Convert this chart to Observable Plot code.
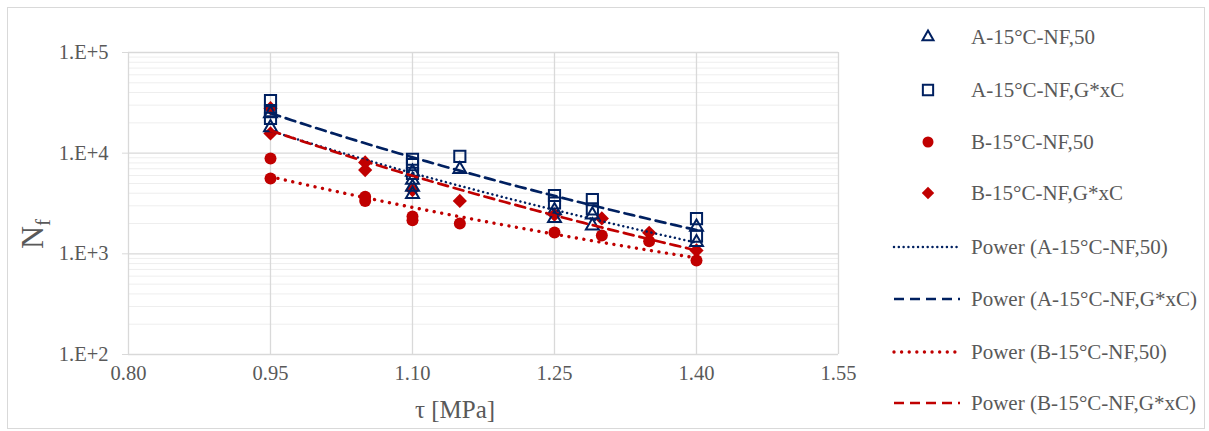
<!DOCTYPE html>
<html><head><meta charset="utf-8">
<script src="https://cdn.jsdelivr.net/npm/d3@7"></script>
<script src="https://cdn.jsdelivr.net/npm/@observablehq/plot@0.6"></script>
<style>
body{margin:0;background:#fff;}
#wrap{position:relative;width:1209px;height:431px;overflow:hidden;font-family:"Liberation Serif","Times New Roman",serif;color:#595959;}
#frame{position:absolute;left:7px;top:7px;width:1198px;height:422px;border:1px solid #d9d9d9;box-sizing:border-box;}
#chart{position:absolute;left:0;top:0;}
#legend{position:absolute;left:0;top:0;}
</style></head><body>
<div id="wrap"><div id="frame"></div><div id="chart"></div><svg id="legend" width="1209" height="431"></svg></div>
<script>
// ---- data ----
const seriesNames = ["A-15°C-NF,50", "A-15°C-NF,G*xC", "B-15°C-NF,50", "B-15°C-NF,G*xC"];
const trendNames = ["Power (A-15°C-NF,50)", "Power (A-15°C-NF,G*xC)", "Power (B-15°C-NF,50)", "Power (B-15°C-NF,G*xC)"];

const a50Tau = [0.95, 0.95, 1.10, 1.10, 1.10, 1.10, 1.15, 1.25, 1.25, 1.29, 1.29, 1.40, 1.40];
const a50N   = [24800, 18000, 6500, 5400, 4600, 3900, 6900, 2700, 2250, 2450, 1900, 1850, 1300];

const aGTau = [0.95, 0.95, 0.95, 1.10, 1.10, 1.10, 1.15, 1.25, 1.25, 1.29, 1.29, 1.40, 1.40];
const aGN   = [33300, 26500, 22200, 8700, 7700, 6300, 9300, 3800, 3200, 3450, 2800, 2240, 1500];

const b50Tau = [0.95, 0.95, 1.05, 1.05, 1.10, 1.10, 1.15, 1.25, 1.30, 1.35, 1.40];
const b50N   = [8850, 5600, 3700, 3350, 2350, 2150, 2000, 1630, 1520, 1330, 860];

const bGTau = [0.95, 0.95, 1.05, 1.05, 1.10, 1.15, 1.25, 1.30, 1.35, 1.40];
const bGN   = [28000, 15700, 8100, 6800, 4300, 3350, 2450, 2250, 1620, 1080];

const xTicks = [0.80, 0.95, 1.10, 1.25, 1.40, 1.55];
const xTickLabels = ["0.80", "0.95", "1.10", "1.25", "1.40", "1.55"];
const yTicks = [100, 1000, 10000, 100000];
const yTickLabels = ["1.E+2", "1.E+3", "1.E+4", "1.E+5"];

// ---- styling ----
const navy = "#002060", red = "#C00000", grid = "#d9d9d9", minor = "#eeeeee", textCol = "#595959";
const font = "'Liberation Serif','Times New Roman',serif";

const toRows = (xs, ys) => xs.map((x, i) => ({x, y: ys[i]}));
const A50 = toRows(a50Tau, a50N), AG = toRows(aGTau, aGN), B50 = toRows(b50Tau, b50N), BG = toRows(bGTau, bGN);

// power trendline y = a*x^b fitted by least squares in log-log space
function powerFit(rows) {
  const lx = rows.map(d => Math.log(d.x)), ly = rows.map(d => Math.log(d.y));
  const mx = d3.mean(lx), my = d3.mean(ly);
  const b = d3.sum(lx, (v, i) => (v - mx) * (ly[i] - my)) / d3.sum(lx, v => (v - mx) ** 2);
  const a = Math.exp(my - b * mx);
  const [x0, x1] = d3.extent(rows, d => d.x);
  return d3.range(0, 61).map(i => { const x = x0 + (x1 - x0) * i / 60; return {x, y: a * Math.pow(x, b)}; });
}

const minorTicks = [];
for (let dec = 100; dec < 100000; dec *= 10) for (let k = 2; k <= 9; k++) minorTicks.push(k * dec);

const lineStyles = [
  {stroke: navy, strokeWidth: 2.5, strokeDasharray: "0.01,4.8", strokeLinecap: "round"},
  {stroke: navy, strokeWidth: 2.7, strokeDasharray: "10,6"},
  {stroke: red, strokeWidth: 3.4, strokeDasharray: "0.01,7.6", strokeLinecap: "round"},
  {stroke: red, strokeWidth: 2.7, strokeDasharray: "10,6"}
];

const plot = Plot.plot({
  width: 880, height: 431,
  marginLeft: 128, marginRight: 42, marginTop: 52, marginBottom: 77,
  style: {fontFamily: font, fontSize: "20.5px", color: textCol, background: "transparent", overflow: "visible"},
  x: {domain: [0.80, 1.55]},
  y: {type: "log", domain: [100, 100000]},
  marks: [
    Plot.ruleY(minorTicks, {stroke: minor, strokeWidth: 1}),
    Plot.ruleX(xTicks, {stroke: grid, strokeWidth: 1.3}),
    Plot.ruleY(yTicks, {stroke: grid, strokeWidth: 1.3}),
    Plot.axisX(xTicks, {tickSize: 0, tickPadding: 11, tickFormat: d => xTickLabels[xTicks.indexOf(d)], label: null, fill: textCol}),
    Plot.axisY(yTicks, {tickSize: 6, tickPadding: 14, stroke: grid, tickFormat: d => yTickLabels[yTicks.indexOf(d)], label: null, fill: textCol}),
    Plot.dot(B50, {x: "x", y: "y", symbol: "circle", r: 6, fill: red}),
    Plot.dot(BG, {x: "x", y: "y", symbol: "diamond2", r: 6.4, fill: red}),
    Plot.dot(A50, {x: "x", y: "y", symbol: "triangle", r: 4.8, stroke: navy, strokeWidth: 2, fill: "none"}),
    Plot.dot(AG, {x: "x", y: "y", symbol: "square", r: 6.3, stroke: navy, strokeWidth: 2, fill: "none"}),
    Plot.line(powerFit(A50), {x: "x", y: "y", ...lineStyles[0]}),
    Plot.line(powerFit(AG), {x: "x", y: "y", ...lineStyles[1]}),
    Plot.line(powerFit(B50), {x: "x", y: "y", ...lineStyles[2]}),
    Plot.line(powerFit(BG), {x: "x", y: "y", ...lineStyles[3]})
  ]
});
document.getElementById("chart").appendChild(plot);

// axis titles
const svg = d3.select(plot);
const yt = svg.append("text").attr("transform", "translate(43,234) rotate(-90)")
  .attr("fill", textCol).attr("font-family", font).attr("font-size", 32);
yt.append("tspan").text("N");
yt.append("tspan").attr("font-size", 21).attr("dy", 7).text("f");
svg.append("text").attr("x", 455).attr("y", 418).attr("text-anchor", "middle")
  .attr("fill", textCol).attr("font-family", font).attr("font-size", 25).text("τ [MPa]");

// legend
const lg = d3.select("#legend");
const rowsY = [37, 90, 142, 193, 247, 299, 352, 403];
const markers = [
  {type: d3.symbolTriangle, r: 4.1, stroke: navy, fill: "none"},
  {type: d3.symbolSquare, r: 5.8, stroke: navy, fill: "none"},
  {type: d3.symbolCircle, r: 5.5, stroke: "none", fill: red},
  {type: d3.symbolDiamond2, r: 5.6, stroke: "none", fill: red}
];
markers.forEach((m, i) => {
  lg.append("path").attr("transform", `translate(928,${rowsY[i]})`)
    .attr("d", d3.symbol(m.type, Math.PI * m.r * m.r)())
    .attr("fill", m.fill).attr("stroke", m.stroke).attr("stroke-width", 2);
});
lineStyles.forEach((s, i) => {
  lg.append("line").attr("x1", 894).attr("x2", 960).attr("y1", rowsY[4 + i]).attr("y2", rowsY[4 + i])
    .attr("stroke", s.stroke).attr("stroke-width", s.strokeWidth)
    .attr("stroke-dasharray", s.strokeDasharray).attr("stroke-linecap", s.strokeLinecap || "butt");
});
[...seriesNames, ...trendNames].forEach((t, i) => {
  lg.append("text").attr("x", 971).attr("y", rowsY[i]).attr("dy", "0.35em")
    .attr("fill", textCol).attr("font-family", font).attr("font-size", 21).text(t);
});
</script>
</body></html>
